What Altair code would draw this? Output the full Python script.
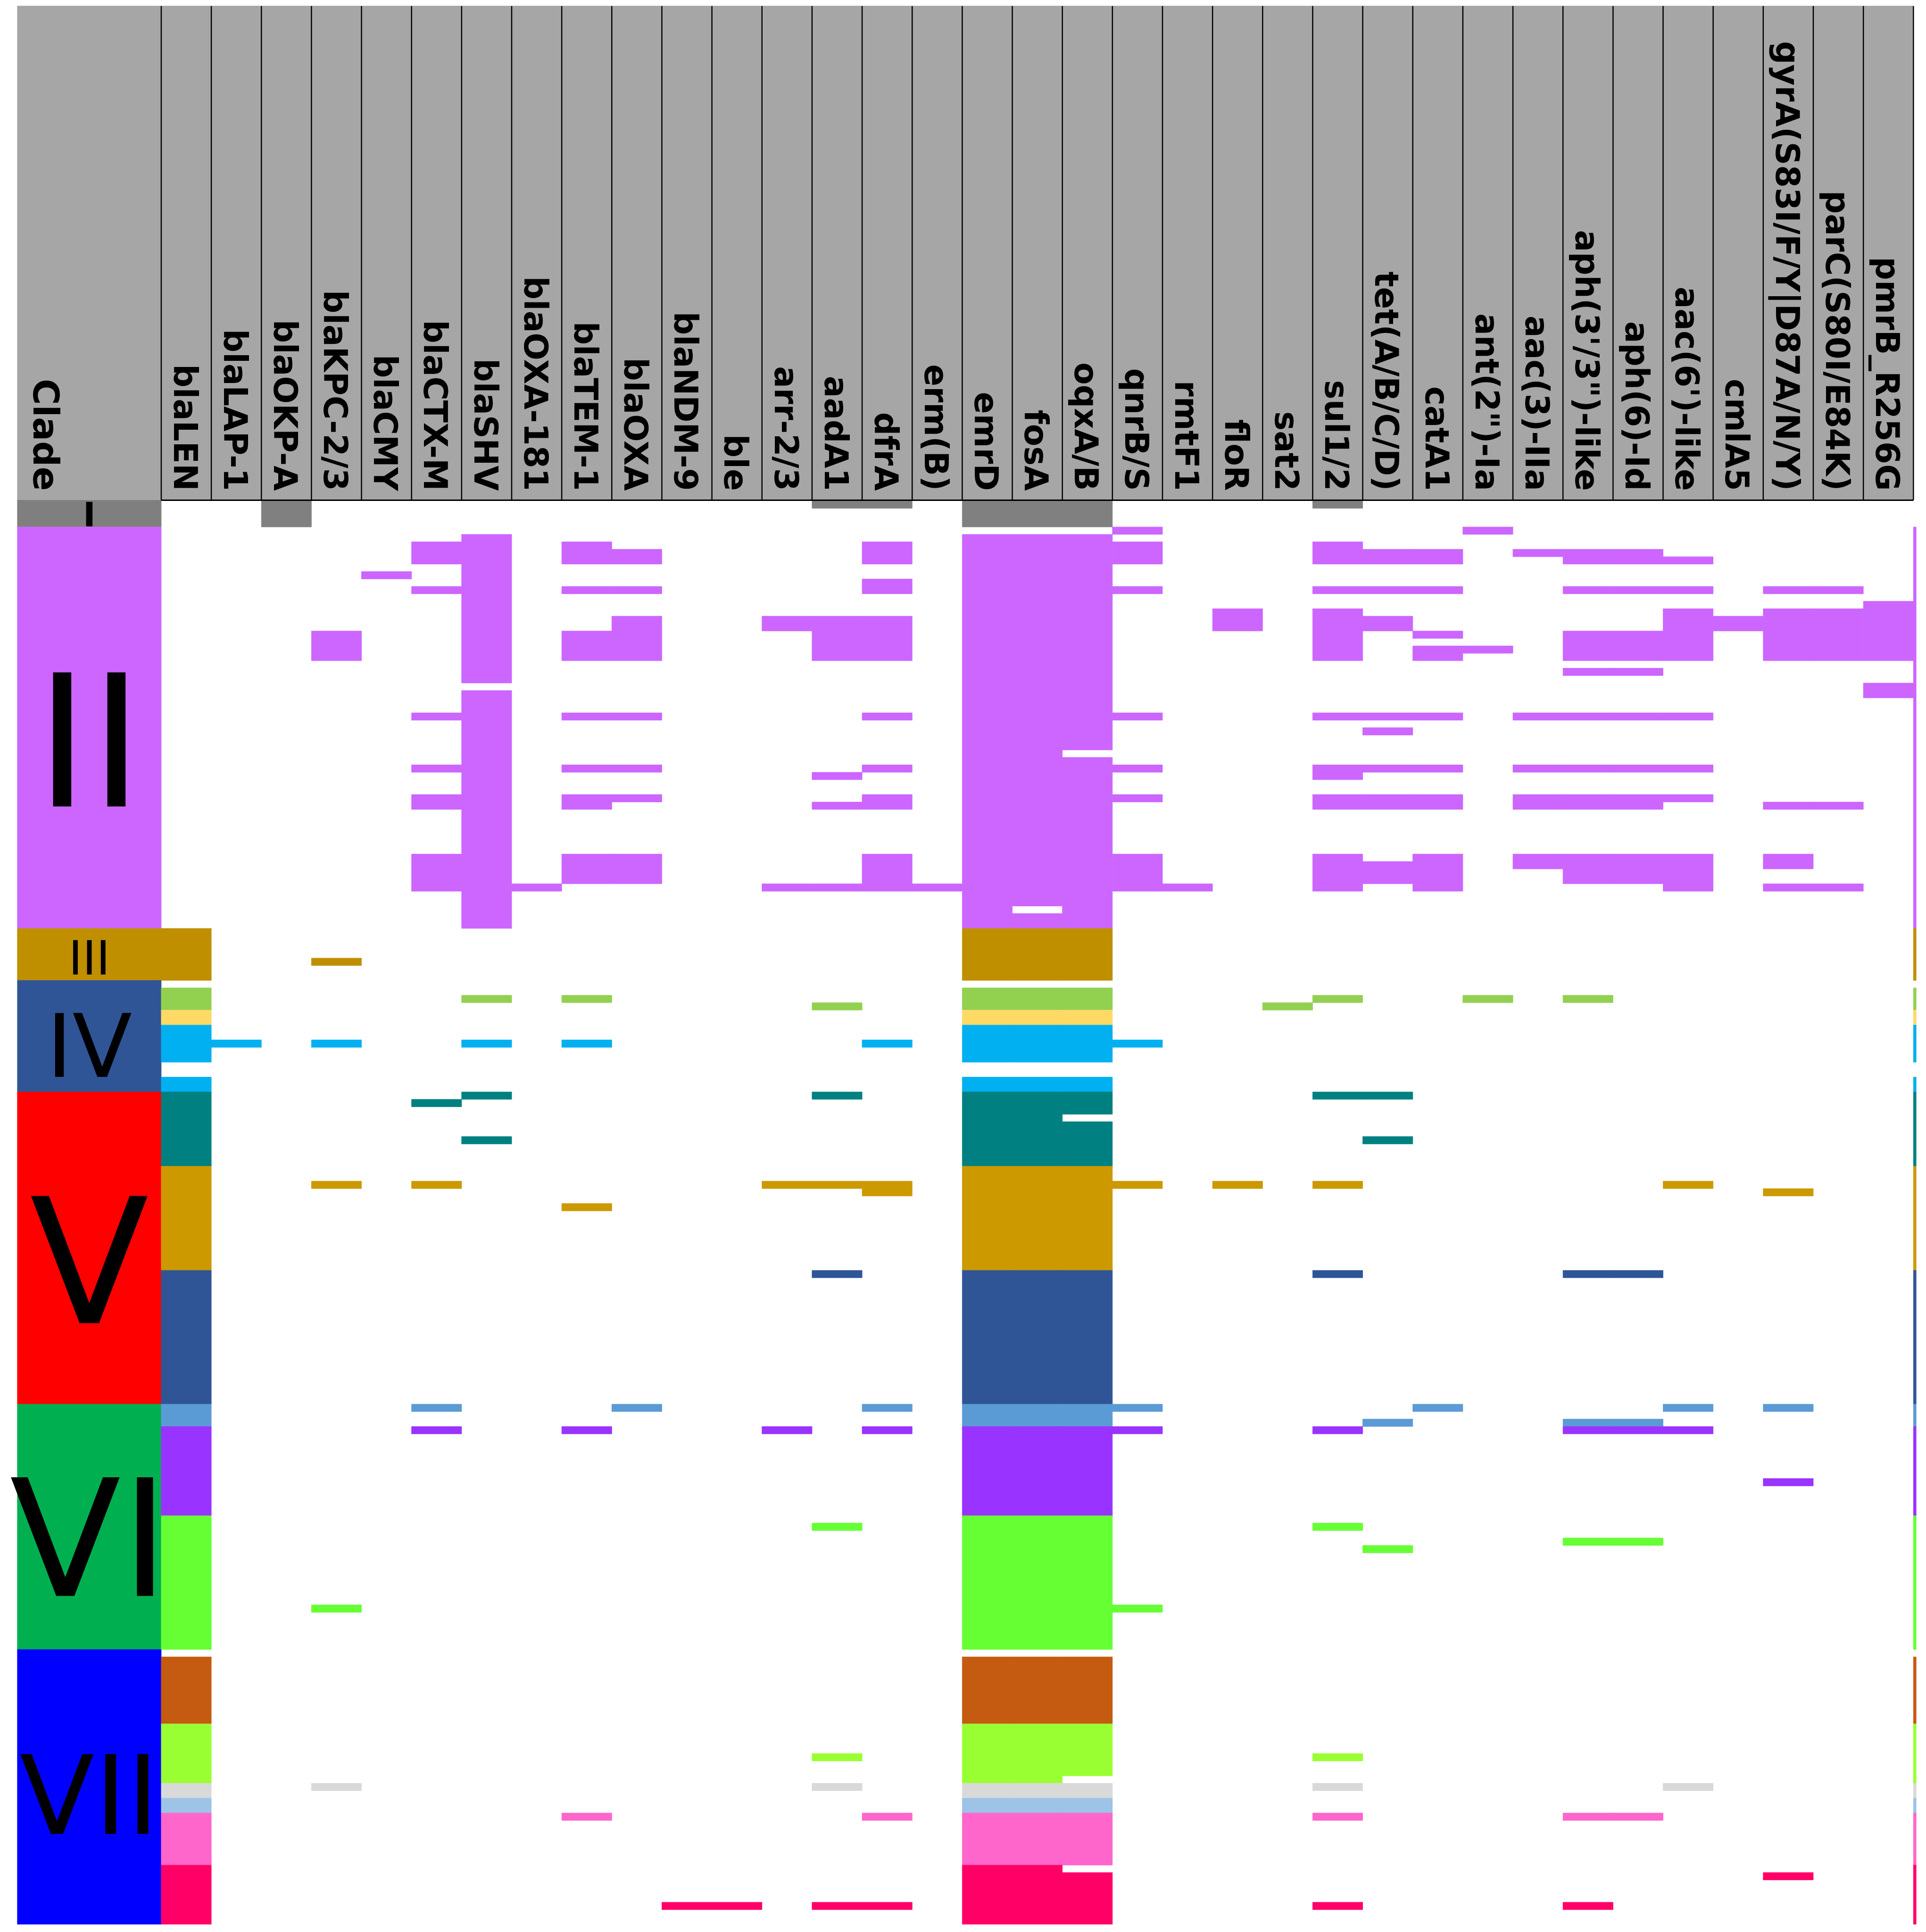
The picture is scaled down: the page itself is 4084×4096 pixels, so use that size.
import altair as alt
import pandas as pd

# ---------------- data ----------------
GENES = ["blaLEN", "blaLAP-1", "blaOKP-A", "blaKPC-2/3", "blaCMY", "blaCTX-M", "blaSHV",
         "blaOXA-181", "blaTEM-1", "blaOXA", "blaNDM-9", "ble", "arr-2/3", "aadA1", "dfrA",
         "erm(B)", "emrD", "fosA", "oqxA/B", "qnrB/S", "rmtF1", "floR", "sat2", "sul1/2",
         "tet(A/B/C/D)", "catA1", "ant(2\")-Ia", "aac(3)-IIa", "aph(3'/3\")-like", "aph(6)-Id",
         "aac(6')-like", "cmlA5", "gyrA(S83I/F/Y|D87A/N/Y)", "parC(S80I/E84K)", "pmrB_R256G"]

CLADES = ["I", "II", "III", "IV", "V", "VI", "VII"]
CLADE_ROW_START = [0.41, 4, 58, 65, 80, 122, 155]
CLADE_ROW_END = [4, 58, 65, 80, 122, 155, 192]
CLADE_COLORS = ["#7F7F7F", "#CC66FF", "#BF8F00", "#2F5597", "#FF0000", "#00B050", "#0000FF"]
CLADE_LABEL_BASE = [3.9, 41.6, 64.2, 78.0, 111.1, 147.8, 179.8]
CLADE_LABEL_SIZE = [72, 390, 100, 185, 370, 345, 232]

SUBGROUPS = ["I", "II", "III", "IVa", "IVb", "IVc", "Va", "Vb", "Vc", "VIa", "VIb", "VIc",
             "VIIa", "VIIb", "VIIc", "VIId", "VIIe", "VIIf"]
SUBGROUP_COLORS = ["#808080", "#CC66FF", "#BF8F00", "#92D050", "#FFD966", "#00B0F0",
                   "#008080", "#CC9900", "#2F5597", "#5B9BD5", "#9933FF", "#66FF33",
                   "#C55A11", "#99FF33", "#D9D9D9", "#9DC3E6", "#FF66CC", "#FF0066"]

# lineage bands (rows) for the core genes emrD / fosA / oqxA/B
CORE_BANDS = [("I", 0.41, 4), ("II", 5, 58), ("III", 58, 65), ("IVa", 66, 69), ("IVb", 69, 71),
              ("IVc", 71, 76), ("IVc", 78, 80), ("Va", 80, 90), ("Vb", 90, 104), ("Vc", 104, 122),
              ("VIa", 122, 125), ("VIb", 125, 137), ("VIc", 137, 155), ("VIIa", 156, 165),
              ("VIIb", 165, 173), ("VIIc", 173, 175), ("VIId", 175, 177), ("VIIe", 177, 184),
              ("VIIf", 184, 192)]
CORE_GENES = ["emrD", "fosA", "oqxA/B"]
CORE_GAPS = [("fosA", 55, 56), ("oqxA/B", 34, 35), ("oqxA/B", 83, 84),
             ("oqxA/B", 172, 173), ("oqxA/B", 184, 185)]
STRIPE_BANDS = [("II", 4, 58)] + CORE_BANDS[2:]

# clade I (grey) partial genes
I_CELLS = [("I", ["blaOKP-A"], 0.41, 4), ("I", ["aadA1", "dfrA", "sul1/2"], 0.41, 1.5)]

# clade II: gene -> row ranges
II_CELLS = {
    "blaKPC-2/3": [(18, 22)],
    "blaCMY": [(10, 11)],
    "blaCTX-M": [(6, 9), (12, 13), (29, 30), (36, 37), (40, 42), (48, 53)],
    "blaSHV": [(5, 25), (26, 58)],
    "blaOXA-181": [(52, 53)],
    "blaTEM-1": [(6, 9), (12, 13), (18, 22), (29, 30), (36, 37), (40, 42), (48, 52)],
    "blaOXA": [(7, 9), (12, 13), (16, 22), (29, 30), (36, 37), (40, 41), (48, 52)],
    "arr-2/3": [(16, 18), (52, 53)],
    "aadA1": [(16, 22), (37, 38), (41, 42), (52, 53)],
    "dfrA": [(6, 9), (11, 13), (16, 22), (29, 30), (36, 37), (40, 42), (48, 53)],
    "erm(B)": [(52, 53)],
    "qnrB/S": [(4, 5), (6, 9), (12, 13), (29, 30), (36, 37), (40, 41), (48, 53)],
    "rmtF1": [(52, 53)],
    "floR": [(15, 18)],
    "sul1/2": [(6, 9), (12, 13), (15, 22), (29, 30), (36, 38), (40, 42), (48, 53)],
    "tet(A/B/C/D)": [(7, 9), (12, 13), (16, 18), (29, 30), (31, 32), (36, 37), (40, 42), (49, 52)],
    "catA1": [(7, 9), (12, 13), (18, 19), (20, 22), (29, 30), (36, 37), (40, 42), (48, 53)],
    "ant(2\")-Ia": [(4, 5), (20, 21)],
    "aac(3)-IIa": [(7, 8), (29, 30), (36, 37), (40, 42), (48, 50)],
    "aph(3'/3\")-like": [(7, 9), (12, 13), (18, 22), (23, 24), (29, 30), (36, 37), (40, 42), (48, 52)],
    "aph(6)-Id": [(7, 9), (12, 13), (18, 22), (23, 24), (29, 30), (36, 37), (40, 42), (48, 52)],
    "aac(6')-like": [(8, 9), (12, 13), (15, 22), (29, 30), (36, 37), (40, 41), (48, 53)],
    "cmlA5": [(16, 18)],
    "gyrA(S83I/F/Y|D87A/N/Y)": [(12, 13), (15, 22), (41, 42), (48, 50), (52, 53)],
    "parC(S80I/E84K)": [(12, 13), (15, 22), (41, 42), (52, 53)],
    "pmrB_R256G": [(14, 22), (25, 27)],
}

GY = "gyrA(S83I/F/Y|D87A/N/Y)"
APH3 = "aph(3'/3\")-like"
AAC6 = "aac(6')-like"
TET = "tet(A/B/C/D)"
OTHER_CELLS = [
    ("III", ["blaKPC-2/3"], 62, 63),
    ("IVa", ["blaSHV", "blaTEM-1", "sul1/2", "ant(2\")-Ia", APH3], 67, 68),
    ("IVa", ["aadA1", "sat2"], 68, 69),
    ("IVc", ["blaLAP-1", "blaKPC-2/3", "blaSHV", "blaTEM-1", "dfrA", "qnrB/S"], 73, 74),
    ("Va", ["blaSHV", "aadA1", "sul1/2", TET], 80, 81),
    ("Va", ["blaCTX-M"], 81, 82),
    ("Va", ["blaSHV", TET], 86, 87),
    ("Vb", ["blaKPC-2/3", "blaCTX-M", "arr-2/3", "aadA1", "dfrA", "qnrB/S", "floR", "sul1/2", AAC6], 92, 93),
    ("Vb", ["dfrA", GY], 93, 94),
    ("Vb", ["blaTEM-1"], 95, 96),
    ("Vc", ["aadA1", "sul1/2", APH3, "aph(6)-Id"], 104, 105),
    ("VIa", ["blaCTX-M", "blaOXA", "dfrA", "qnrB/S", "catA1", AAC6, GY], 122, 123),
    ("VIa", [TET, APH3, "aph(6)-Id"], 124, 125),
    ("VIb", ["blaCTX-M", "blaTEM-1", "arr-2/3", "dfrA", "qnrB/S", "sul1/2", APH3, "aph(6)-Id", AAC6], 125, 126),
    ("VIb", [GY], 132, 133),
    ("VIc", ["aadA1", "sul1/2"], 138, 139),
    ("VIc", [APH3, "aph(6)-Id"], 140, 141),
    ("VIc", [TET], 141, 142),
    ("VIc", ["blaKPC-2/3", "qnrB/S"], 149, 150),
    ("VIIb", ["aadA1", "sul1/2"], 169, 170),
    ("VIIc", ["blaKPC-2/3", "aadA1", "sul1/2", AAC6], 173, 174),
    ("VIIe", ["blaTEM-1", "dfrA", "sul1/2", APH3, "aph(6)-Id"], 177, 178),
    ("VIIf", [GY], 185, 186),
    ("VIIf", ["blaNDM-9", "ble", "aadA1", "dfrA", "sul1/2", APH3], 189, 190),
]

# ---------------- layout (reference px * 0.982) ----------------
S = 0.982
COL_PX = 108.1 * S
ROW_PX = 16.05 * S
X_DOMAIN = [-2.874, 35.06]
Y_DOMAIN = [-66.07, 192]
W = (X_DOMAIN[1] - X_DOMAIN[0]) * COL_PX
H = (Y_DOMAIN[1] - Y_DOMAIN[0]) * ROW_PX
HEADER_TOP, HEADER_BOTTOM = Y_DOMAIN[0], 0.41
LABEL_ROW = -0.85
STRIPE_W = 0.055

recs = []
recs.append(dict(x=X_DOMAIN[0], x2=35, y=HEADER_TOP, y2=HEADER_BOTTOM, grp="header"))
for c, s, e in zip(CLADES, CLADE_ROW_START, CLADE_ROW_END):
    recs.append(dict(x=X_DOMAIN[0], x2=0, y=s, y2=e, grp="clade " + c))


def cell(grp, gene, s, e):
    i = GENES.index(gene)
    recs.append(dict(x=i, x2=i + 1, y=s, y2=e, grp=grp))


def subtract(s, e, gaps):
    parts = [(s, e)]
    for gs, ge in gaps:
        new = []
        for a, b in parts:
            if ge <= a or gs >= b:
                new.append((a, b))
            else:
                if a < gs:
                    new.append((a, gs))
                if ge < b:
                    new.append((ge, b))
        parts = new
    return parts


for grp, s, e in CORE_BANDS:
    for g in CORE_GENES:
        gaps = [(a, b) for gg, a, b in CORE_GAPS if gg == g]
        for a, b in subtract(s, e, gaps):
            cell(grp, g, a, b)
    if grp not in ("I", "II"):
        cell(grp, "blaLEN", s, e)
for grp, s, e in STRIPE_BANDS:
    recs.append(dict(x=35, x2=35 + STRIPE_W, y=s, y2=e, grp=grp))
for grp, genes, s, e in I_CELLS + OTHER_CELLS:
    for g in genes:
        cell(grp, g, s, e)
for g, ranges in II_CELLS.items():
    for s, e in ranges:
        cell("II", g, s, e)

rects = pd.DataFrame(recs)

dom = ["header"] + ["clade " + c for c in CLADES] + SUBGROUPS
rng = ["#A6A6A6"] + CLADE_COLORS + SUBGROUP_COLORS
cscale = alt.Scale(domain=dom, range=rng)

xs = alt.Scale(domain=X_DOMAIN, nice=False, zero=False)
ys = alt.Scale(domain=Y_DOMAIN, nice=False, zero=False, reverse=True)

rect_layer = alt.Chart(rects).mark_rect(strokeWidth=0.8).encode(
    x=alt.X("x:Q", scale=xs, axis=None),
    x2="x2:Q",
    y=alt.Y("y:Q", scale=ys, axis=None),
    y2="y2:Q",
    color=alt.Color("grp:N", scale=cscale, legend=None),
    stroke=alt.Stroke("grp:N", scale=cscale, legend=None),
)

vlines = pd.DataFrame({"x": list(range(0, 36)), "y": HEADER_TOP, "y2": HEADER_BOTTOM})
vline_layer = alt.Chart(vlines).mark_rule(color="black", strokeWidth=2.5).encode(
    x=alt.X("x:Q", scale=xs, axis=None), y=alt.Y("y:Q", scale=ys, axis=None), y2="y2:Q")

hline = pd.DataFrame({"x": [0], "x2": [35], "y": [HEADER_BOTTOM]})
hline_layer = alt.Chart(hline).mark_rule(color="black", strokeWidth=3).encode(
    x=alt.X("x:Q", scale=xs, axis=None), x2="x2:Q", y=alt.Y("y:Q", scale=ys, axis=None))

glabels = pd.DataFrame({"name": GENES, "x": [i + 0.45 for i in range(len(GENES))], "y": LABEL_ROW})
glabel_layer = alt.Chart(glabels).mark_text(
    angle=90, align="right", baseline="middle", font="DejaVu Sans", fontWeight="bold",
    fontSize=69, color="black").encode(
    x=alt.X("x:Q", scale=xs, axis=None), y=alt.Y("y:Q", scale=ys, axis=None), text="name:N")

clabel = pd.DataFrame({"name": ["Clade"], "x": [-2.34], "y": [LABEL_ROW]})
clabel_layer = alt.Chart(clabel).mark_text(
    angle=90, align="right", baseline="middle", font="DejaVu Sans", fontWeight="bold",
    fontSize=75.6, color="black").encode(
    x=alt.X("x:Q", scale=xs, axis=None), y=alt.Y("y:Q", scale=ys, axis=None), text="name:N")

nums = pd.DataFrame({"name": CLADES, "x": -1.437, "y": CLADE_LABEL_BASE, "size": CLADE_LABEL_SIZE})
num_enc = dict(
    x=alt.X("x:Q", scale=xs, axis=None), y=alt.Y("y:Q", scale=ys, axis=None), text="name:N",
    size=alt.Size("size:Q", scale=None))
num_layer = alt.Chart(nums).transform_filter(alt.datum.name != "I").mark_text(
    align="center", baseline="alphabetic", font="DejaVu Sans", color="black").encode(**num_enc)
num_i_layer = alt.Chart(nums).transform_filter(alt.datum.name == "I").mark_text(
    align="center", baseline="alphabetic", font="DejaVu Sans", fontWeight="bold",
    color="black").encode(**num_enc)

chart = alt.layer(rect_layer, vline_layer, hline_layer, glabel_layer, clabel_layer,
                  num_layer, num_i_layer).properties(
    width=W, height=H,
    padding={"left": 37.5 * S - 8, "top": 13 * S - 8, "right": 0, "bottom": 0},
    autosize=alt.AutoSizeParams(type="none"),
).configure_view(strokeWidth=0)

chart.save("out.html", embed_options={"renderer": "svg", "actions": False})
